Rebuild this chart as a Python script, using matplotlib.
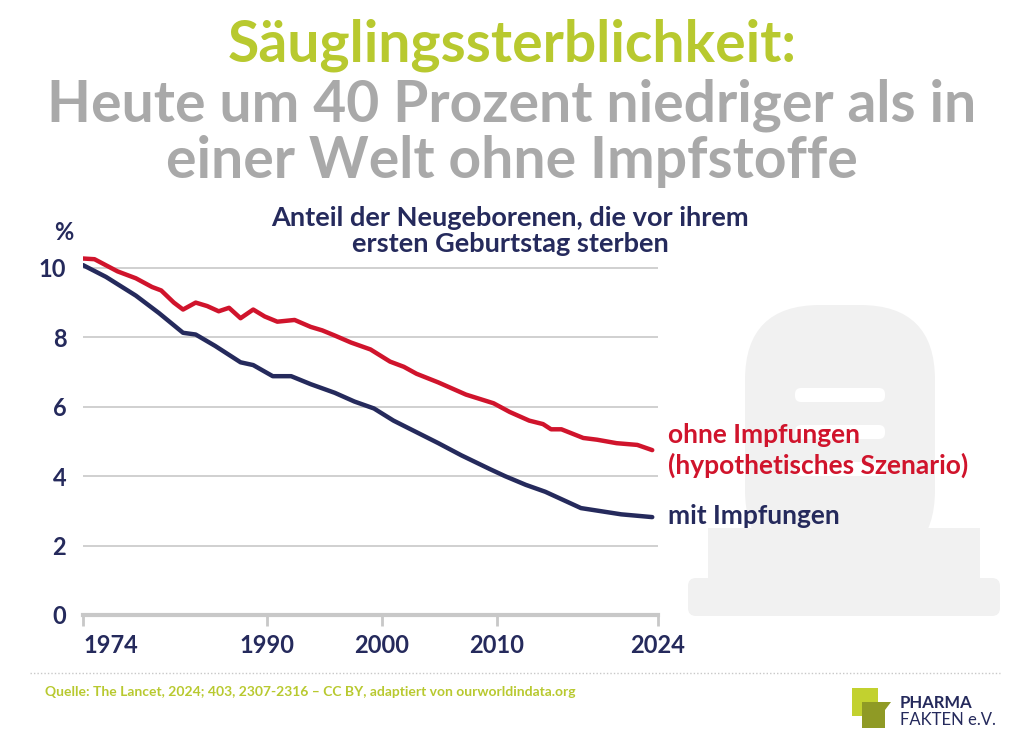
import matplotlib.pyplot as plt
from matplotlib.patches import FancyBboxPatch, Rectangle, Polygon

plt.rcParams['font.family'] = ['Lato', 'DejaVu Sans']

GREEN = '#b8c92f'
GRAY = '#a9a9a9'
NAVY = '#252a5c'
RED = '#d0142c'
HEAVY = 'bold'

# Werte
years_ohne = [1974, 1975, 1977, 1978.6, 1980, 1980.8, 1981.9, 1982.7, 1983.8, 1984.8, 1985.8,
              1986.7, 1987.7, 1988.8, 1989.8, 1990.9, 1992.4, 1993.8, 1994.8, 1995.9, 1997.3,
              1999, 2000.7, 2001.9, 2003, 2004.9, 2007.3, 2009.7, 2011.1, 2012.8, 2014,
              2014.7, 2015.6, 2017.5, 2018.7, 2020.4, 2022.2, 2023.5]
ohne = [10.27, 10.25, 9.9, 9.7, 9.45, 9.35, 9.0, 8.8, 9.0, 8.9, 8.75,
        8.85, 8.55, 8.8, 8.6, 8.45, 8.5, 8.3, 8.2, 8.05, 7.85,
        7.65, 7.3, 7.15, 6.95, 6.7, 6.35, 6.1, 5.85, 5.6, 5.5,
        5.35, 5.35, 5.1, 5.05, 4.95, 4.9, 4.75]
years_mit = [1974, 1976, 1978.6, 1980.6, 1982.7, 1983.8, 1985.5, 1987.7, 1988.8, 1990.5,
             1992.1, 1993.8, 1995.9, 1997.6, 1999.3, 2001, 2002.8, 2004.9, 2006.9, 2009.4,
             2010.7, 2012.5, 2014.2, 2017.3, 2020.8, 2023.5]
mit = [10.08, 9.74, 9.2, 8.7, 8.13, 8.08, 7.75, 7.28, 7.2, 6.88,
       6.88, 6.65, 6.4, 6.15, 5.95, 5.6, 5.3, 4.95, 4.6, 4.2,
       4.0, 3.75, 3.55, 3.08, 2.9, 2.82]
xticks = [1974, 1990, 2000, 2010, 2024]
yticks = [0, 2, 4, 6, 8, 10]

fig = plt.figure(figsize=(10.24, 7.48), dpi=100)

# Grabstein im Hintergrund (Pixelkoordinaten)
bg = fig.add_axes([0, 0, 1, 1], zorder=-1)
bg.set_xlim(0, 1024)
bg.set_ylim(748, 0)
bg.axis('off')
tomb = '#f1f1f1'
bg.add_patch(FancyBboxPatch((745, 305), 190, 260, boxstyle='round,pad=0,rounding_size=75',
                            fc=tomb, ec='none'))
bg.add_patch(Rectangle((708, 528), 272, 60, fc=tomb, ec='none'))
bg.add_patch(FancyBboxPatch((688, 578), 312, 38, boxstyle='round,pad=0,rounding_size=8',
                            fc=tomb, ec='none'))
for yy in [388, 425, 462]:
    bg.add_patch(FancyBboxPatch((795, yy), 90, 14, boxstyle='round,pad=0,rounding_size=6',
                                fc='white', ec='none'))

ax = fig.add_axes([83 / 1024, 133 / 748, 575 / 1024, 361 / 748])
ax.patch.set_alpha(0)
ax.plot(years_ohne, ohne, color=RED, lw=3.2, solid_capstyle='round')
ax.plot(years_mit, mit, color=NAVY, lw=3.2, solid_capstyle='round')
ax.set_xlim(1974, 2024)
ax.set_ylim(0, 10.4)
ax.set_yticks(yticks)
ax.set_xticks(xticks)
ax.grid(axis='y', color='#c8c8c8', lw=1.2)
for s in ['top', 'right', 'left']:
    ax.spines[s].set_visible(False)
ax.spines['bottom'].set_color('#c8c8c8')
ax.spines['bottom'].set_linewidth(3)
ax.tick_params(axis='y', length=0, pad=12, labelsize=17, labelcolor=NAVY)
ax.tick_params(axis='x', length=8, width=2, color='#c8c8c8', labelsize=17, labelcolor=NAVY, pad=6)
for lab in ax.get_xticklabels() + ax.get_yticklabels():
    lab.set_fontweight(HEAVY)
ax.get_xticklabels()[0].set_ha('left')

fig.text(64 / 1024, 1 - 232 / 748, '%', color=NAVY, fontsize=17, fontweight=HEAVY, ha='center', va='center')

# Titel
fig.text(512 / 1024, 1 - 45 / 748, 'Säuglingssterblichkeit:', color=GREEN, fontsize=41, fontweight=HEAVY, ha='center', va='center')
fig.text(512 / 1024, 1 - 105 / 748, 'Heute um 40 Prozent niedriger als in', color=GRAY, fontsize=41, fontweight=HEAVY, ha='center', va='center')
fig.text(512 / 1024, 1 - 161 / 748, 'einer Welt ohne Impfstoffe', color=GRAY, fontsize=41, fontweight=HEAVY, ha='center', va='center')
fig.text(510 / 1024, 1 - 231 / 748, 'Anteil der Neugeborenen, die vor ihrem\nersten Geburtstag sterben',
         color=NAVY, fontsize=19.5, fontweight=HEAVY, ha='center', va='center', linespacing=1.1)

fig.text(668 / 1024, 1 - 435 / 748, 'ohne Impfungen', color=RED, fontsize=19, fontweight=HEAVY, va='center')
fig.text(668 / 1024, 1 - 465 / 748, '(hypothetisches Szenario)', color=RED, fontsize=19, fontweight=HEAVY, va='center')
fig.text(668 / 1024, 1 - 516 / 748, 'mit Impfungen', color=NAVY, fontsize=19, fontweight=HEAVY, va='center')

# Fusszeile
fig.add_artist(plt.Line2D([30 / 1024, 1000 / 1024], [1 - 673 / 748] * 2, transform=fig.transFigure,
                          color='#c8c8c8', lw=1, ls=(0, (1, 1.5))))
fig.text(45 / 1024, 1 - 692 / 748, 'Quelle: The Lancet, 2024; 403, 2307-2316 – CC BY, adaptiert von ourworldindata.org',
         color=GREEN, fontsize=10, fontweight='bold', va='center')

bg.add_patch(Rectangle((852, 688), 26, 28, fc='#c2d12f', ec='none'))
bg.add_patch(Polygon([(862, 728), (885, 728), (885, 710), (891, 702), (862, 702)],
                     closed=True, fc='#8f9a25', ec='none'))
fig.text(900 / 1024, 1 - 703 / 748, 'PHARMA', color=NAVY, fontsize=12, fontweight=HEAVY, va='center')
fig.text(900 / 1024, 1 - 720 / 748, 'FAKTEN e.V.', color=NAVY, fontsize=12, va='center')

fig.savefig('out.png', dpi=100)
